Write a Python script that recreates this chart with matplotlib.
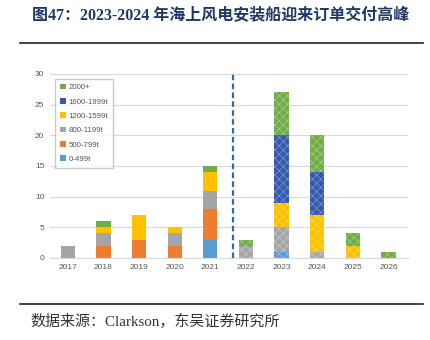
import matplotlib.pyplot as plt
import numpy as np

plt.rcParams['font.family'] = ['Liberation Sans', 'Noto Sans CJK SC']
plt.rcParams['hatch.linewidth'] = 0.4

years = ['2017', '2018', '2019', '2020', '2021', '2022', '2023', '2024', '2025', '2026']
labels = ['0-499t', '500-799t', '800-1199t', '1200-1599t', '1600-1999t', '2000+']
colors = ['#5B9BD5', '#ED7D31', '#A5A5A5', '#FFC000', '#3559AE', '#70AD47']

t0_499 = [0, 0, 0, 0, 3, 0, 1, 0, 0, 0]
t500_799 = [0, 2, 3, 2, 5, 0, 0, 0, 0, 0]
t800_1199 = [2, 2, 0, 2, 3, 2, 4, 1, 0, 0]
t1200_1599 = [0, 1, 4, 1, 3, 0, 4, 6, 2, 0]
t1600_1999 = [0, 0, 0, 0, 0, 0, 11, 7, 0, 0]
t2000 = [0, 1, 0, 0, 1, 1, 7, 6, 2, 1]
series = [t0_499, t500_799, t800_1199, t1200_1599, t1600_1999, t2000]

n_hist = 5  # 2017-2021 delivered, later years on order (hatched)

fig = plt.figure(figsize=(4.3, 3.4), dpi=100)
ax = fig.add_axes([50 / 430, 82 / 340, 358 / 430, 184 / 340])

x = np.arange(len(years))
bottom = np.zeros(len(years))
handles = []
for vals, col, lab in zip(series, colors, labels):
    vals = np.array(vals, dtype=float)
    h = ax.bar(x[:n_hist], vals[:n_hist], 0.4, bottom=bottom[:n_hist], color=col, label=lab, zorder=2)
    ax.bar(x[n_hist:], vals[n_hist:], 0.4, bottom=bottom[n_hist:], color=col, hatch='xxxx',
           edgecolor=(1, 1, 1, 0.45), linewidth=0, zorder=2)
    handles.append(h)
    bottom += vals

ax.axvline(4.64, ymin=0, ymax=1, color='#2E6DA4', linestyle=(0, (2.5, 1.5)), linewidth=1.6, zorder=3)

ax.set_xlim(-0.5, 9.55)
ax.set_ylim(0, 30)
ax.set_yticks([0, 5, 10, 15, 20, 25, 30])
ax.set_xticks(x)
ax.set_xticklabels(years)
ax.yaxis.grid(True, color='#D9D9D9', linewidth=0.8, zorder=0)
ax.set_axisbelow(True)
for s in ['top', 'right', 'left']:
    ax.spines[s].set_visible(False)
ax.spines['bottom'].set_color('#D9D9D9')
ax.tick_params(axis='both', length=0, labelsize=6, colors='#595959', pad=4)

leg = ax.legend(handles[::-1], labels[::-1], loc='upper left', bbox_to_anchor=(0.008, 0.985),
                fontsize=5.7, frameon=True, fancybox=False, edgecolor='#BFBFBF',
                handlelength=0.7, handleheight=0.7, handletextpad=0.4, labelspacing=0.85,
                borderpad=0.6, borderaxespad=0.3)
for t in leg.get_texts():
    t.set_color('#595959')

# title, rules and source note
fig.text(0.513, 1 - 16 / 340, '图47：2023-2024 年海上风电安装船迎来订单交付高峰',
         ha='center', va='center', fontsize=11.5, fontweight='bold', color='#1F3864',
         family=['Liberation Serif', 'Noto Sans CJK SC'])
fig.add_artist(plt.Line2D([20 / 430, 423 / 430], [1 - 43 / 340, 1 - 43 / 340], color='#222222', linewidth=1.2))
fig.add_artist(plt.Line2D([20 / 430, 423 / 430], [1 - 304 / 340, 1 - 304 / 340], color='#222222', linewidth=1.2))
fig.text(30 / 430, 1 - 321 / 340, '数据来源：Clarkson，东吴证券研究所', ha='left', va='center',
         fontsize=10.8, color='#333333', family=['Liberation Serif', 'Noto Sans CJK SC'])

fig.savefig('out.png', dpi=100)
